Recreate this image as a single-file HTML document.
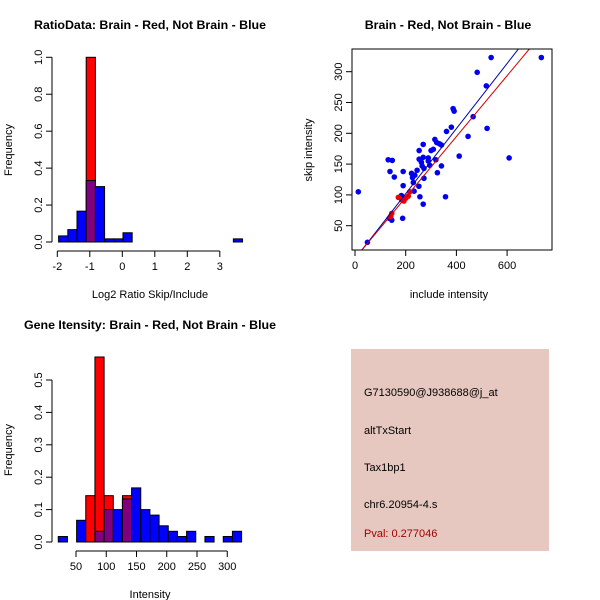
<!DOCTYPE html>
<html><head><meta charset="utf-8"><style>
body{margin:0;background:#fff}
svg{display:block;font-family:"Liberation Sans",sans-serif}
.t{font-weight:bold;font-size:12.4px}
.tk{font-size:11px}
.lb{font-size:11px}
</style></head><body>
<svg id="s" width="600" height="600" xmlns="http://www.w3.org/2000/svg">
<rect width="600" height="600" fill="#fff"/>
<text class="t" x="150" y="29" text-anchor="middle">RatioData: Brain - Red, Not Brain - Blue</text>
<text class="t" x="448" y="29" text-anchor="middle">Brain - Red, Not Brain - Blue</text>
<text class="t" x="150" y="329" text-anchor="middle">Gene Itensity: Brain - Red, Not Brain - Blue</text>
<text class="lb" x="150" y="298" text-anchor="middle">Log2 Ratio Skip/Include</text>
<text class="lb" transform="translate(12,150) rotate(-90)" text-anchor="middle">Frequency</text>
<text class="lb" x="449" y="298" text-anchor="middle">include intensity</text>
<text class="lb" transform="translate(312,150) rotate(-90)" text-anchor="middle">skip intensity</text>
<text class="lb" x="150" y="598" text-anchor="middle">Intensity</text>
<text class="lb" transform="translate(12,450) rotate(-90)" text-anchor="middle">Frequency</text>
<g>
<rect x="351" y="349" width="198" height="202" fill="#e6c8c0"/>
<text class="lb" x="364" y="396">G7130590@J938688@j_at</text>
<text class="lb" x="364" y="434">altTxStart</text>
<text class="lb" x="364" y="471">Tax1bp1</text>
<text class="lb" x="364" y="508">chr6.20954-4.s</text>
<text class="lb" x="364" y="537" fill="#a00000">Pval: 0.277046</text>
</g>
<g id="g1"></g>
<g id="g2"></g>
<g id="g3"></g>
</svg>
<script>
// Ratio histogram data
const ratioStart = -1.96, ratioWidth = 0.283;
const ratioBlue = [0.033,0.067,0.167,0.333,0.3,0.017,0.017,0.05,0,0,0,0,0,0,0,0,0,0,0,0.017];
const ratioRed  = [0,0,0,1.0,0,0,0,0,0,0,0,0,0,0,0,0,0,0,0,0];
const ratioXTicks = [-2,-1,0,1,2,3];
const ratioYTicks = ["0.0","0.2","0.4","0.6","0.8","1.0"];
// Intensity histogram data
const intStart = 20.7, intWidth = 15.15;
const intBlue = [0.017,0,0.067,0,0.033,0.1,0.1,0.133,0.167,0.1,0.083,0.05,0.033,0.017,0.033,0,0.017,0,0.017,0.033];
const intRed  = [0,0,0,0.143,0.571,0.143,0,0.143,0,0,0,0,0,0,0,0,0,0,0,0];
const intXTicks = [50,100,150,200,250,300];
const intYTicks = ["0.0","0.1","0.2","0.3","0.4","0.5"];
// Scatter data
const blueX = [13,49,131,147,138,155,141,145,135,190,190,188,183,223,227,230,236,245,253,253,262,269,269,265,272,252,256,233,269,272,289,295,289,300,309,315,322,333,341,319,325,341,357,361,380,387,391,411,446,466,482,518,521,537,608,735];
const blueY = [105,23,157,156,138,129,65,59,62,138,115,62,99,135,128,120,132,140,172,158,153,182,161,147,143,114,97,106,85,127,155,148,160,172,174,190,185,183,181,157,136,147,97,203,210,240,236,163,195,227,299,277,208,323,160,323];
const redX = [171,184,193,201,210,145,216,140];
const redY = [96,92,90,95,98,70,105,65];
const lineSlope = {blue:0.5285, red:0.4939};
const lineIntercept = {blue:-3.74, red:-2.84};
const scXTicks = [0,200,400,600];
const scYTicks = [50,100,150,200,250,300];

const NS="http://www.w3.org/2000/svg";
function mk(p,tag,a){const e=document.createElementNS(NS,tag);for(const k in a)e.setAttribute(k,a[k]);p.appendChild(e);return e;}

function hist(g,start,w,blue,red,xt,yt,xs,ys,axX,axY,prefix){
  blue.forEach((b,i)=>{
    const r=red[i],x0=xs(start+i*w),x1=xs(start+(i+1)*w);
    if(r>0){const e=mk(g,'rect',{x:x0,y:ys(r),width:x1-x0,height:ys(0)-ys(r),fill:'#ff0000',stroke:'#000','stroke-width':1});
      
      }
    if(b>0){const e=mk(g,'rect',{x:x0,y:ys(b),width:x1-x0,height:ys(0)-ys(b),fill:r>0?'#800080':'#0000ff',stroke:'#000','stroke-width':1});
      
      }
  });
  const ax=mk(g,'g',{});
  
  
  mk(ax,'line',{x1:xs(xt[0]),x2:xs(xt[xt.length-1]),y1:axY,y2:axY,stroke:'#000'});
  xt.forEach(v=>{mk(ax,'line',{x1:xs(v),x2:xs(v),y1:axY,y2:axY+6,stroke:'#000'});
    const t=mk(ax,'text',{x:xs(v),y:axY+19,'text-anchor':'middle',class:'tk'});t.textContent=v;});
  const ay=mk(g,'g',{});
  
  
  mk(ay,'line',{x1:axX,x2:axX,y1:ys(+yt[0]),y2:ys(+yt[yt.length-1]),stroke:'#000'});
  yt.forEach(v=>{const y=ys(+v);mk(ay,'line',{x1:axX-6,x2:axX,y1:y,y2:y,stroke:'#000'});
    const t=mk(ay,'text',{transform:`translate(${axX-10},${y}) rotate(-90)`,'text-anchor':'middle',class:'tk'});t.textContent=v;});
}
hist(document.getElementById('g1'),ratioStart,ratioWidth,ratioBlue,ratioRed,ratioXTicks,ratioYTicks,
  v=>57.3+(v+2)*32.5, v=>242-v*184.7, 52, 251, 'ratio');
hist(document.getElementById('g3'),intStart,intWidth,intBlue,intRed,intXTicks,intYTicks,
  v=>76+(v-50)*0.605, v=>542-v*324, 52, 551, 'intensity');

// scatter
const g2=document.getElementById('g2');
const sx=v=>355+v*0.2535, sy=v=>225.7-(v-50)*0.616;
const L=352,R=552,T=49,B=250;
mk(g2,'defs',{}).innerHTML='<clipPath id="cp"><rect x="352" y="49" width="200" height="201"/></clipPath>';
blueX.forEach((x,i)=>{const c=mk(g2,'circle',{cx:sx(x),cy:sy(blueY[i]),r:2.8,fill:'#0000ee'});
  
  });
redX.forEach((x,i)=>{const c=mk(g2,'circle',{cx:sx(x),cy:sy(redY[i]),r:2.8,fill:'#ee0000'});
  
  });
['blue','red'].forEach(k=>{const x0=-100,x1=900;
  const l=mk(g2,'line',{x1:sx(x0),y1:sy(lineIntercept[k]+lineSlope[k]*x0),x2:sx(x1),y2:sy(lineIntercept[k]+lineSlope[k]*x1),
    stroke:k==='blue'?'#0000aa':'#cc0000','stroke-width':1,'clip-path':'url(#cp)'});
  
  });
const box=mk(g2,'rect',{x:L,y:T,width:R-L,height:B-T,fill:'none',stroke:'#000'});


scXTicks.forEach(v=>{mk(g2,'line',{x1:sx(v),x2:sx(v),y1:B,y2:B+6,stroke:'#000'});
  const t=mk(g2,'text',{x:sx(v),y:B+19,'text-anchor':'middle',class:'tk'});t.textContent=v;
  
  });
scYTicks.forEach(v=>{const y=sy(v);mk(g2,'line',{x1:L-6,x2:L,y1:y,y2:y,stroke:'#000'});
  const t=mk(g2,'text',{transform:`translate(${L-10},${y}) rotate(-90)`,'text-anchor':'middle',class:'tk'});t.textContent=v;
  
  });
</script>
</body></html>
